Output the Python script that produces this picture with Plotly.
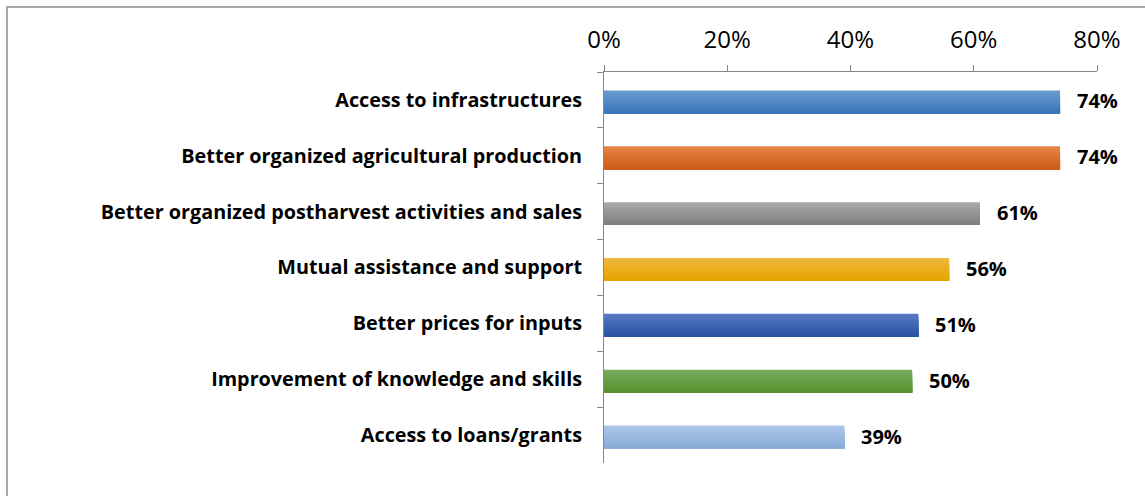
import plotly.graph_objects as go

categories = [
    "Access to infrastructures",
    "Better organized agricultural production",
    "Better organized postharvest activities and sales",
    "Mutual assistance and support",
    "Better prices for inputs",
    "Improvement of knowledge and skills",
    "Access to loans/grants",
]
values = [0.74, 0.74, 0.61, 0.56, 0.51, 0.50, 0.39]
value_labels = ["74%", "74%", "61%", "56%", "51%", "50%", "39%"]
x_ticks = [0, 0.2, 0.4, 0.6, 0.8]
x_tick_labels = ["0%", "20%", "40%", "60%", "80%"]

# top / bottom shade of each bar's vertical gradient
top_colors = [(104, 155, 208), (228, 132, 72), (170, 170, 170), (238, 184, 62),
              (86, 120, 192), (120, 170, 92), (170, 198, 234)]
bottom_colors = [(58, 117, 182), (204, 92, 20), (126, 126, 126), (230, 164, 0),
                 (40, 84, 164), (88, 146, 46), (138, 172, 216)]

FONT = "Open Sans, sans-serif"

W, H = 1145, 496
ML, MR, MT, MB = 604, 48, 72, 33

BAR_W = 0.41
BAR_SHIFT = 0.035
N_STRIPES = 14

fig = go.Figure()

# each bar is layered from its top edge down: every layer runs to the bar's
# bottom edge and the next one is drawn over it, giving a vertical gradient
step = BAR_W / N_STRIPES
for k in range(N_STRIPES):
    t = k / (N_STRIPES - 1)
    cols = []
    for a, b in zip(top_colors, bottom_colors):
        c = [round(a[i] + (b[i] - a[i]) * t) for i in range(3)]
        cols.append(f"rgb({c[0]},{c[1]},{c[2]})")
    fig.add_trace(go.Bar(
        x=values,
        y=categories,
        orientation="h",
        width=BAR_W - k * step,
        offset=-BAR_W / 2 + BAR_SHIFT + k * step,
        marker=dict(color=cols, line=dict(width=0)),
        hoverinfo="skip",
        showlegend=False,
    ))

for cat, v, lab in zip(categories, values, value_labels):
    fig.add_annotation(
        x=v, y=cat, text=f"<b>{lab}</b>", showarrow=False,
        xanchor="left", xshift=15, yshift=-1,
        font=dict(family=FONT, size=20, color="#000000"),
    )

# chart frame (only its top and left edges fall inside the page)
pw = W - ML - MR
ph = H - MT - MB
fig.add_shape(
    type="rect", xref="paper", yref="paper",
    x0=(7 - ML) / pw, x1=(W + 20 - ML) / pw,
    y0=-(H + 20 - MT - ph) / ph, y1=(H - 7 - MB) / ph,
    line=dict(color="#8c8c8c", width=1.5), fillcolor="rgba(0,0,0,0)", layer="below",
)

fig.update_layout(
    width=W, height=H,
    margin=dict(l=ML, r=MR, t=MT, b=MB, pad=0),
    paper_bgcolor="white", plot_bgcolor="white",
    barmode="overlay",
    font=dict(family=FONT, color="#000000"),
    xaxis=dict(
        side="top", range=[0, 0.8],
        tickvals=x_ticks, ticktext=x_tick_labels,
        tickfont=dict(size=24, color="#000000"),
        showgrid=False, zeroline=False,
        showline=True, linecolor="#868686", linewidth=1,
        ticks="outside", ticklen=6, tickcolor="#868686",
        ticklabelstandoff=7,
    ),
    yaxis=dict(
        type="category", autorange="reversed",
        tickfont=dict(size=19.8, color="#000000", weight="bold"),
        showgrid=False, zeroline=False,
        showline=True, linecolor="#868686", linewidth=1,
        ticks="outside", ticklen=6, tickcolor="#868686",
        tickson="boundaries",
        ticklabelstandoff=17,
    ),
)

fig.write_html("out.html")
